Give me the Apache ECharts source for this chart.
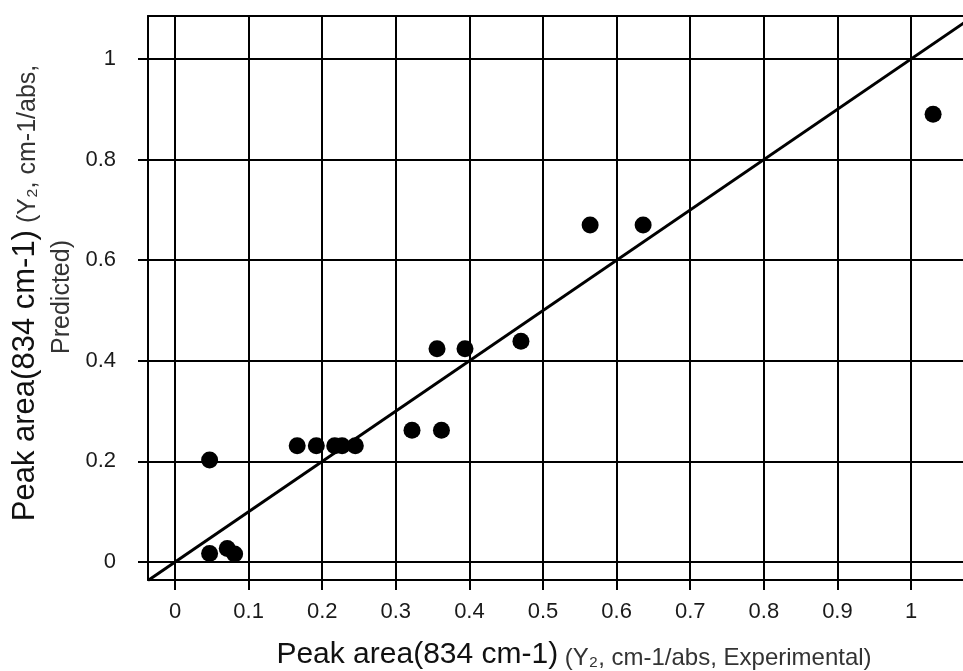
<!DOCTYPE html>
<html>
<head>
<meta charset="utf-8">
<script src="https://cdn.jsdelivr.net/npm/echarts@6/dist/echarts.min.js"></script>
<style>
  html, body { margin: 0; padding: 0; background: #fff; }
  #chart { width: 963px; height: 671px; }
</style>
</head>
<body>
<div id="chart"></div>
<script>
// Peak area at 834 cm-1: experimental vs predicted
const experimental = [0.047, 0.047, 0.071, 0.081, 0.166, 0.192, 0.217, 0.227, 0.245,
                      0.322, 0.362, 0.356, 0.394, 0.470, 0.564, 0.636, 1.030];
const predicted    = [0.203, 0.017, 0.027, 0.016, 0.231, 0.231, 0.231, 0.231, 0.231,
                      0.262, 0.262, 0.424, 0.424, 0.439, 0.670, 0.670, 0.890];
const tickValues = [0, 0.1, 0.2, 0.3, 0.4, 0.5, 0.6, 0.7, 0.8, 0.9, 1];
const yTickValues = [0, 0.2, 0.4, 0.6, 0.8, 1];

// axis ranges
const xRange = [-0.0367, 1.0842];
const yRange = [-0.0358, 1.0855];

// 1:1 reference line spanning the x range
const identityLine = [[xRange[0], xRange[0]], [xRange[1], xRange[1]]];

const points = experimental.map((x, i) => [x, predicted[i]]);

const chart = echarts.init(document.getElementById('chart'), null, { renderer: 'canvas' });

const labelFmt = v => {
  const r = Math.round(v * 10) / 10;
  return Math.abs(v - r) < 1e-6 ? String(+r.toFixed(1)) : '';
};

const lineStyle = { color: '#000', width: 2 };
const FONT = 'Liberation Sans, Arial, sans-serif';

chart.setOption({
  animation: false,
  backgroundColor: '#fff',
  grid: { left: 148, top: 16, width: 825, height: 564, containLabel: false, outerBoundsMode: 'none' },
  xAxis: [
    {
      type: 'value',
      min: xRange[0],
      max: xRange[1],
      splitNumber: 10,
      axisLine: { show: true, onZero: false, lineStyle },
      axisTick: { show: true, inside: false, length: 10, lineStyle, customValues: tickValues },
      axisLabel: { fontSize: 22, color: '#1a1a1a', fontFamily: FONT,
                   margin: 21, formatter: labelFmt, customValues: tickValues },
      splitLine: { show: true, lineStyle }
    },
    {
      type: 'value',
      position: 'top',
      min: xRange[0],
      max: xRange[1],
      axisLine: { show: true, onZero: false, lineStyle },
      axisTick: { show: false },
      axisLabel: { show: false },
      splitLine: { show: false }
    }
  ],
  yAxis: {
    type: 'value',
    min: yRange[0],
    max: yRange[1],
    splitNumber: 5,
    axisLine: { show: true, onZero: false, lineStyle },
    axisTick: { show: true, inside: false, length: 10, lineStyle, customValues: yTickValues },
    axisLabel: { fontSize: 22, color: '#1a1a1a', fontFamily: FONT,
                 margin: 32, formatter: labelFmt, customValues: yTickValues },
    splitLine: { show: true, lineStyle }
  },
  series: [
    {
      type: 'line',
      xAxisIndex: 0,
      data: identityLine,
      showSymbol: false,
      symbol: 'none',
      clip: true,
      lineStyle: { color: '#000', width: 3 },
      z: 3
    },
    {
      type: 'scatter',
      xAxisIndex: 0,
      data: points,
      symbol: 'circle',
      symbolSize: 17,
      itemStyle: { color: '#000', opacity: 1 },
      z: 4
    }
  ],
  graphic: [
    {
      type: 'text',
      x: 574,
      y: 655,
      style: {
        text: '{a|Peak area(834 cm-1)}{b| (Y₂, cm-1/abs, Experimental)}',
        align: 'center',
        verticalAlign: 'middle',
        rich: {
          a: { fontSize: 30, fill: '#111', fontFamily: FONT, verticalAlign: 'bottom' },
          b: { fontSize: 24, fill: '#333', fontFamily: FONT, verticalAlign: 'bottom' }
        }
      }
    },
    {
      type: 'text',
      x: 25,
      y: 293,
      rotation: Math.PI / 2,
      style: {
        text: '{a|Peak area(834 cm-1)}{b| (Y₂, cm-1/abs,}',
        align: 'center',
        verticalAlign: 'middle',
        rich: {
          a: { fontSize: 31, fill: '#111', fontFamily: FONT, verticalAlign: 'bottom' },
          b: { fontSize: 25, fill: '#333', fontFamily: FONT, verticalAlign: 'bottom' }
        }
      }
    },
    {
      type: 'text',
      x: 62,
      y: 297,
      rotation: Math.PI / 2,
      style: {
        text: 'Predicted)',
        align: 'center',
        verticalAlign: 'middle',
        fontSize: 25,
        fill: '#333',
        fontFamily: FONT
      }
    }
  ]
});
</script>
</body>
</html>
